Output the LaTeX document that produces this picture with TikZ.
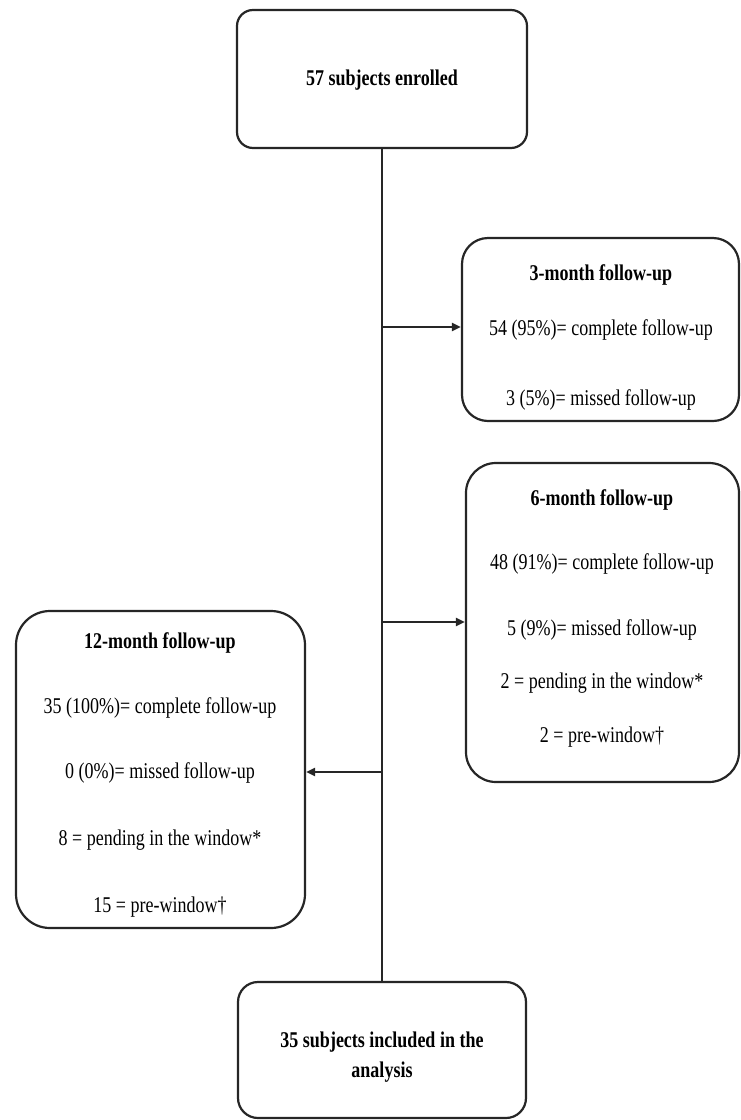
\documentclass[tikz,border=0pt]{standalone}
\usepackage{fontspec}
\usepackage{graphicx}
\setmainfont{Liberation Serif}
\usetikzlibrary{arrows.meta}
\newcommand{\talltext}[1]{\scalebox{1}[1.25]{#1}}
\begin{document}
\begin{tikzpicture}[x=1pt,y=-1pt,
  box/.style={draw=black!85, line width=2.2pt, fill=white, inner sep=0pt},
  txt/.style={inner sep=0pt, anchor=center, font=\fontsize{18}{30}\selectfont},
  ttl/.style={txt, font=\fontsize{18}{30}\selectfont\bfseries},
  conn/.style={draw=black!85, line width=2.2pt},
  arr/.style={conn, -{Triangle[length=9pt,width=8pt]}}
]
\useasboundingbox (0,0) rectangle (741,1120);
% boxes
\node[box, rounded corners=16pt, minimum width=290pt, minimum height=138pt] (top) at (382,79) {};
\node[box, rounded corners=26pt, minimum width=277pt, minimum height=183pt] (m3) at (600.5,329.5) {};
\node[box, rounded corners=30pt, minimum width=273pt, minimum height=319pt] (m6) at (602.5,622.5) {};
\node[box, rounded corners=34pt, minimum width=289pt, minimum height=317pt] (m12) at (160.5,769.5) {};
\node[box, rounded corners=20pt, minimum width=288pt, minimum height=136pt] (bot) at (382,1050) {};
% texts
\node[ttl] (ttop) at (382,80) {\talltext{57 subjects enrolled}};
\node[ttl] (t3a) at (601,275) {\talltext{3-month follow-up}};
\node[txt] (t3b) at (601,330) {\talltext{54 (95\%)= complete follow-up}};
\node[txt] (t3c) at (601,400) {\talltext{3 (5\%)= missed follow-up}};
\node[ttl] (t6a) at (602,500) {\talltext{6-month follow-up}};
\node[txt] (t6b) at (602,564) {\talltext{48 (91\%)= complete follow-up}};
\node[txt] (t6c) at (602,630) {\talltext{5 (9\%)= missed follow-up}};
\node[txt] (t6d) at (602,683) {\talltext{2 = pending in the window*}};
\node[txt] (t6e) at (602,737) {\talltext{2 = pre-window†}};
\node[ttl] (t12a) at (160,643) {\talltext{12-month follow-up}};
\node[txt] (t12b) at (160,708) {\talltext{35 (100\%)= complete follow-up}};
\node[txt] (t12c) at (160,773) {\talltext{0 (0\%)= missed follow-up}};
\node[txt] (t12d) at (160,840) {\talltext{8 = pending in the window*}};
\node[txt] (t12e) at (160,907) {\talltext{15 = pre-window†}};
\node[ttl] (tbot) at (382,1055) {\talltext{\begin{tabular}{@{}c@{}}35 subjects included in the\\[-6pt]analysis\end{tabular}}};
% connectors
\coordinate (j3) at (382,327);
\coordinate (j6) at (382,622);
\coordinate (j12) at (382,772);
\draw[conn] (top.south) -- (bot.north);
\draw[arr] (j3) -- (j3 -| m3.west);
\draw[arr] (j6) -- (j6 -| m6.west);
\draw[arr] (j12) -- (j12 -| m12.east);
\end{tikzpicture}
\end{document}
